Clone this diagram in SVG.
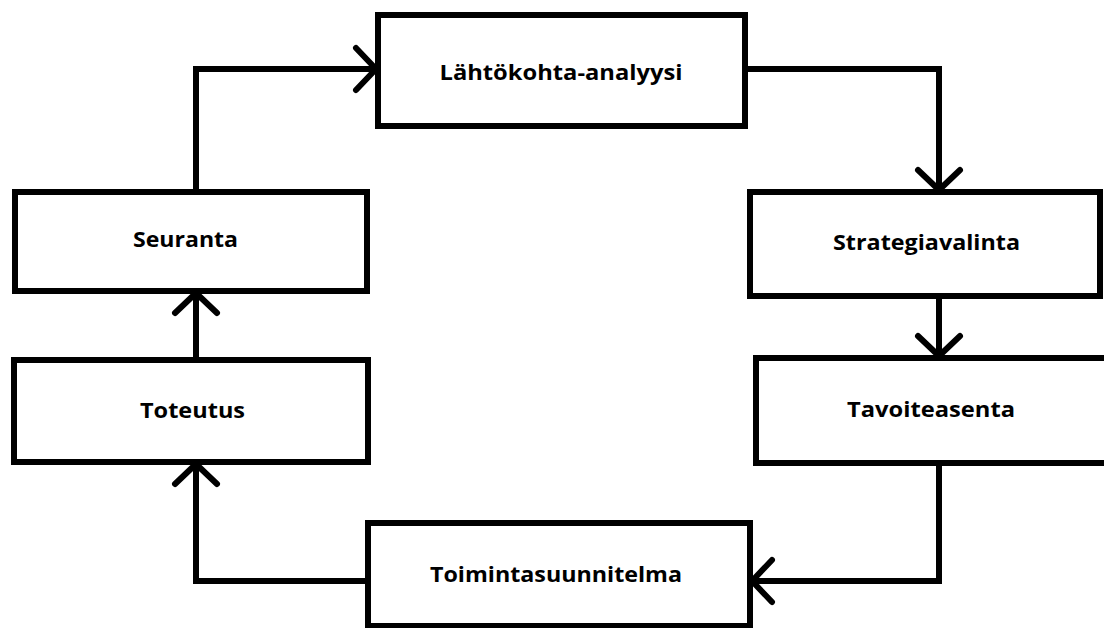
<svg xmlns="http://www.w3.org/2000/svg" width="1104" height="628" viewBox="0 0 1104 628">
  <style>
    .box { fill: #ffffff; stroke: #000000; stroke-width: 6; }
    .lbl { font-family: "Open Sans", "Liberation Sans", sans-serif; font-weight: bold; font-size: 22px; fill: #000000; text-anchor: middle; }
    .conn { fill: none; stroke: #000000; stroke-width: 6; stroke-linejoin: miter; marker-end: url(#arr); }
  </style>
  <defs>
    <marker id="arr" markerUnits="userSpaceOnUse" markerWidth="60" markerHeight="60" refX="0" refY="0" viewBox="-30 -30 60 60" orient="auto" overflow="visible">
      <path d="M -20 -21 L 0 0 L -20 21" fill="none" stroke="#000000" stroke-width="6" stroke-linecap="round" stroke-linejoin="round"/>
    </marker>
  </defs>
  <rect x="0" y="0" width="1104" height="628" fill="#ffffff"/>
  <g id="connectors">
    <path class="conn" d="M196,192 V69 H376"/>
    <path class="conn" d="M745,69 H939 V190"/>
    <path class="conn" d="M939,296 V356"/>
    <path class="conn" d="M939,463 V581 H752"/>
    <path class="conn" d="M368,581 H196 V464"/>
    <path class="conn" d="M196,360 V293"/>
  </g>
  <g id="lahtokohta">
    <rect class="box" x="378" y="15" width="367" height="111"/>
    <text class="lbl" x="561" y="80" textLength="243" lengthAdjust="spacingAndGlyphs">Lähtökohta-analyysi</text>
  </g>
  <g id="strategiavalinta">
    <rect class="box" x="750" y="192" width="350" height="104"/>
    <text class="lbl" x="926.5" y="250" textLength="187" lengthAdjust="spacingAndGlyphs">Strategiavalinta</text>
  </g>
  <g id="tavoiteasenta">
    <rect class="box" x="756" y="358" width="352" height="105"/>
    <text class="lbl" x="931" y="417" textLength="168" lengthAdjust="spacingAndGlyphs">Tavoiteasenta</text>
  </g>
  <g id="toimintasuunnitelma">
    <rect class="box" x="368" y="523" width="382" height="103"/>
    <text class="lbl" x="556" y="582" textLength="252" lengthAdjust="spacingAndGlyphs">Toimintasuunnitelma</text>
  </g>
  <g id="toteutus">
    <rect class="box" x="14" y="360" width="354" height="102"/>
    <text class="lbl" x="192.5" y="418" textLength="105" lengthAdjust="spacingAndGlyphs">Toteutus</text>
  </g>
  <g id="seuranta">
    <rect class="box" x="15" y="192" width="352" height="99"/>
    <text class="lbl" x="185.5" y="247" textLength="105" lengthAdjust="spacingAndGlyphs">Seuranta</text>
  </g>
</svg>
